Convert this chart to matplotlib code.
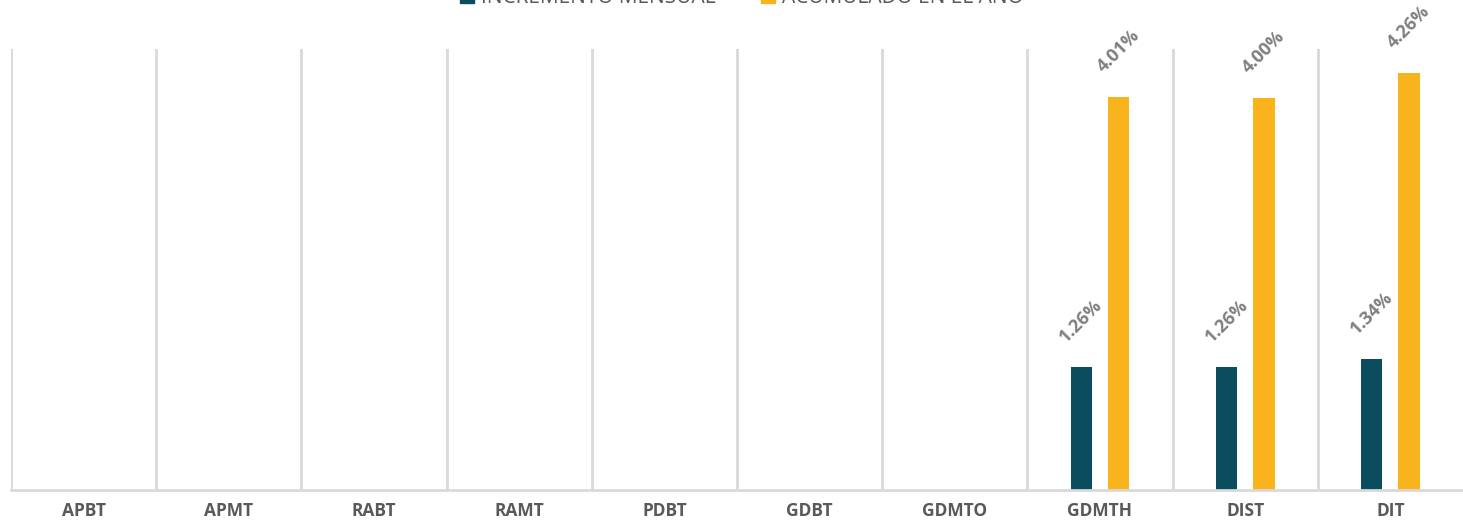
import matplotlib
matplotlib.use("Agg")
import matplotlib.pyplot as plt
from matplotlib.patches import Patch
import numpy as np

categories = ["APBT", "APMT", "RABT", "RAMT", "PDBT", "GDBT", "GDMTO", "GDMTH", "DIST", "DIT"]
mensual = [np.nan, np.nan, np.nan, np.nan, np.nan, np.nan, np.nan, 0.0126, 0.0126, 0.0134]
acumulado = [np.nan, np.nan, np.nan, np.nan, np.nan, np.nan, np.nan, 0.0401, 0.0400, 0.0426]
series_names = ["INCREMENTO MENSUAL", "ACUMULADO EN EL AÑO"]

c_navy = "#0b4c5f"
c_yel = "#f9b31c"
grid_c = "#d9d9d9"
lab_c = "#7f7f7f"

plt.rcParams['font.family'] = ['Open Sans', 'DejaVu Sans']

fig = plt.figure(figsize=(14.63, 5.26), dpi=100)
ax = fig.add_axes([11/1463, 1 - 490/526, 1 - 11/1463, 441/526])

x = np.arange(len(categories))
w = 0.148
off = 0.129
ax.bar(x - off, mensual, width=w, color=c_navy)
ax.bar(x + off, acumulado, width=w, color=c_yel)

for xi, v in zip(x, mensual):
    if not np.isnan(v):
        ax.annotate(f"{v*100:.2f}%", (xi - off, v), xytext=(0, 21), textcoords="offset pixels",
                    ha="center", va="bottom", rotation=45, color=lab_c, fontsize=13, fontweight="bold")
for xi, v in zip(x, acumulado):
    if not np.isnan(v):
        ax.annotate(f"{v*100:.2f}%", (xi + off, v), xytext=(0, 21), textcoords="offset pixels",
                    ha="center", va="bottom", rotation=45, color=lab_c, fontsize=13, fontweight="bold")

ax.set_xlim(-0.5, len(categories) - 0.5)
ax.set_ylim(0, 0.045)
for b in np.arange(len(categories)) - 0.5:
    ax.axvline(b, color=grid_c, lw=2, zorder=0)

for s in ["top", "right", "left"]:
    ax.spines[s].set_visible(False)
ax.spines["bottom"].set_color(grid_c)
ax.spines["bottom"].set_linewidth(2)
ax.set_yticks([])
ax.set_xticks(x)
ax.set_xticklabels(categories, fontsize=12.5, fontweight="bold", color="#595959")
ax.tick_params(axis="x", length=0, pad=9)

handles = [Patch(color=c_navy), Patch(color=c_yel)]
fig.legend(handles, series_names, loc="center", bbox_to_anchor=(0.507, 1.0 + 2.5/526), ncol=2,
           frameon=False, fontsize=15, handlelength=0.67, handleheight=0.67, handletextpad=0.34,
           columnspacing=2.16, labelcolor="#595959", borderpad=0, borderaxespad=0)

fig.savefig("out.png", dpi=100)
